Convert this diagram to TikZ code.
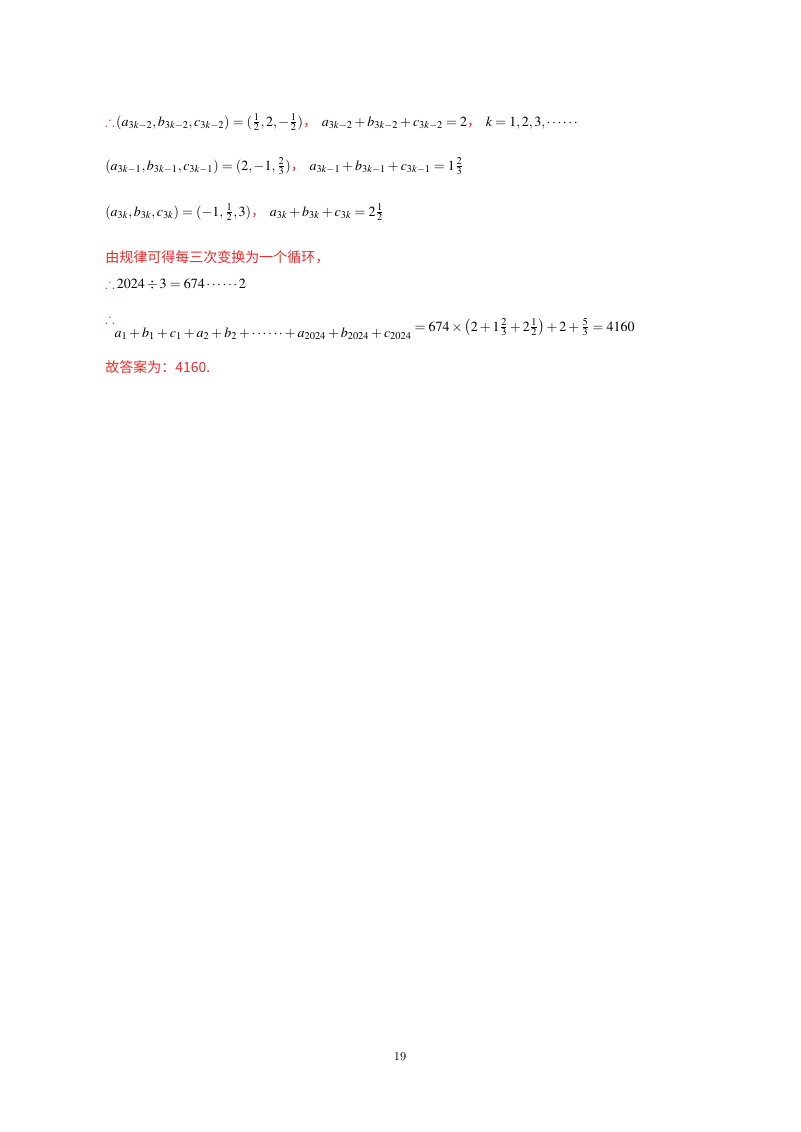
\documentclass[tikz,border=0pt]{standalone}
\usepackage{fontspec}
\setmainfont{Liberation Serif}
\newfontfamily\cjk{Noto Sans CJK SC}
\usepackage{mathptmx}
\usepackage{amssymb}
\usepackage{xcolor}
\definecolor{ansred}{RGB}{240,40,40}
\newcommand{\rc}{{\color{ansred}\cjk ，}}
\newcommand{\thf}{{\color{ansred}$\therefore$}}
\begin{document}
\begin{tikzpicture}[x=0.75pt,y=-0.75pt,
  ln/.style={anchor=base west,inner sep=0pt,font=\fontsize{10.5}{12}\selectfont},
  cn/.style={ln,text=ansred,font=\fontsize{10.5}{12}\selectfont\cjk}]
\useasboundingbox (0,0) rectangle (800,1132);
\node[ln] (l1) at (105,126) {\thf$\,(a_{3k-2},b_{3k-2},c_{3k-2})=(\frac12,2,-\frac12)$\rc\ $a_{3k-2}+b_{3k-2}+c_{3k-2}=2$\rc\ $k=1,2,3,\cdots\cdots$};
\node[ln] (l2) at (105,170) {$(a_{3k-1},b_{3k-1},c_{3k-1})=(2,-1,\frac23)$\rc\ $a_{3k-1}+b_{3k-1}+c_{3k-1}=1\frac23$};
\node[ln] (l3) at (105,216) {$(a_{3k},b_{3k},c_{3k})=(-1,\frac12,3)$\rc\ $a_{3k}+b_{3k}+c_{3k}=2\frac12$};
\node[cn] (l4) at (105,262) {由规律可得每三次变换为一个循环，};
\node[ln] (l5) at (105,288) {\thf\,$2024\div3=674\cdots\cdots2$};
\node[ln] (l6) at (105,331) {\raisebox{1.2ex}{\thf}$\raisebox{-1.1ex}{$a_1+b_1+c_1+a_2+b_2+\cdots\cdots+a_{2024}+b_{2024}+c_{2024}$}=674\times\left(2+1\frac23+2\frac12\right)+2+\frac53=4160$};
\node[cn] (l7) at (105,372) {故答案为：4160.};
\node[ln,anchor=base] (pg) at (400,1060) {\fontsize{9}{10}\selectfont 19};
\end{tikzpicture}
\end{document}
